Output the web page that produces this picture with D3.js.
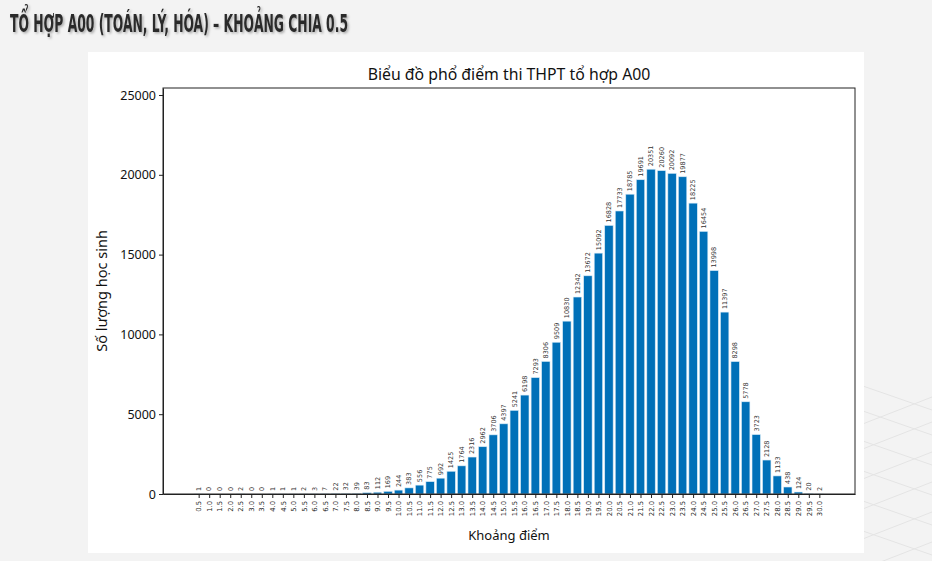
<!DOCTYPE html>
<html>
<head>
    <meta charset="utf-8">
    <title>Phổ điểm A00</title>
    <style type="text/css">
        body { margin: 0; background: #f3f3f3; }
        svg { display: block; }
        .chart-text { font-family: "Noto Sans", "Open Sans", sans-serif; fill: #111; }
        .bar { fill: #0070b8; stroke: #d8ebf7; stroke-width: 0.6px; }
        .bar-label { font-family: "DejaVu Sans", sans-serif; font-size: 6.5px; fill: #333; }
        .x-axis text { font-family: "DejaVu Sans", sans-serif; font-size: 6.8px; fill: #222; }
        .y-axis text { font-family: "Noto Sans", "Open Sans", sans-serif; font-size: 12.5px; fill: #111; }
        .axis path, .axis line { stroke: #222; }
    </style>
</head>
<body>
<div id="chart"></div>
<script src="https://d3js.org/d3.v7.min.js"></script>
<script>
    // score bins (step 0.5) and number of students in each bin
    var scoreBins = ["0.5","1.0","1.5","2.0","2.5","3.0","3.5","4.0","4.5","5.0",
                     "5.5","6.0","6.5","7.0","7.5","8.0","8.5","9.0","9.5","10.0",
                     "10.5","11.0","11.5","12.0","12.5","13.0","13.5","14.0","14.5","15.0",
                     "15.5","16.0","16.5","17.0","17.5","18.0","18.5","19.0","19.5","20.0",
                     "20.5","21.0","21.5","22.0","22.5","23.0","23.5","24.0","24.5","25.0",
                     "25.5","26.0","26.5","27.0","27.5","28.0","28.5","29.0","29.5","30.0"];
    var studentCounts = [1,0,0,0,2,0,0,1,1,1,
                         2,3,7,22,32,39,83,112,169,244,
                         383,556,775,992,1425,1764,2316,2962,3706,4397,
                         5241,6198,7293,8306,9509,10830,12342,13672,15092,16828,
                         17733,18785,19691,20351,20260,20092,19877,18225,16454,13998,
                         11397,8298,5778,3723,2128,1133,438,124,20,2];
    var yTicks = [0, 5000, 10000, 15000, 20000, 25000];

    var pageTitle = "TỔ HỢP A00 (TOÁN, LÝ, HÓA) – KHOẢNG CHIA 0.5";
    var chartTitle = "Biểu đồ phổ điểm thi THPT tổ hợp A00";
    var xLabel = "Khoảng điểm";
    var yLabel = "Số lượng học sinh";

    var width = 932, height = 561;
    var plot = { left: 163, right: 855, top: 88, bottom: 494 };

    var svg = d3.select("#chart").append("svg")
        .attr("width", width)
        .attr("height", height);

    //  soft shadow for the slide heading
    var shadow = svg.append("defs").append("filter")
        .attr("id", "shadow").attr("x", "-5%").attr("y", "-20%")
        .attr("width", "110%").attr("height", "150%");
    shadow.append("feDropShadow")
        .attr("dx", 1.5).attr("dy", 1.5).attr("stdDeviation", 1)
        .attr("flood-color", "#000").attr("flood-opacity", 0.3);

    //  faint background grid at the bottom right of the slide
    var deco = svg.append("g").attr("stroke", "#e4e4e4").attr("stroke-width", 1).attr("fill", "none");
    [385, 410, 440, 470, 500, 530].forEach(function (y0) {
        deco.append("line").attr("x1", 860).attr("y1", y0).attr("x2", 932).attr("y2", y0 + 25);
        deco.append("line").attr("x1", 860).attr("y1", y0 + 40).attr("x2", 932).attr("y2", y0 + 12);
    });

    //  slide heading
    svg.append("text")
        .attr("x", 10).attr("y", 32)
        .attr("fill", "#2b2b2b")
        .attr("filter", "url(#shadow)")
        .attr("font-family", "'DejaVu Sans Condensed', 'Liberation Sans Narrow', sans-serif")
        .attr("font-weight", "bold").attr("font-size", 25)
        .attr("textLength", 338).attr("lengthAdjust", "spacingAndGlyphs")
        .text(pageTitle);

    //  white panel holding the chart
    svg.append("rect")
        .attr("x", 88).attr("y", 52)
        .attr("width", 776).attr("height", 501)
        .attr("fill", "#fff");

    var n = scoreBins.length;
    var x = d3.scaleLinear()
        .domain([-0.4 - 0.05 * (n - 0.2), n - 0.6 + 0.05 * (n - 0.2)])
        .range([plot.left, plot.right]);
    var y = d3.scaleLinear()
        .domain([0, d3.max(studentCounts) * 1.25])
        .range([plot.bottom, plot.top]);
    var barW = x(0.8) - x(0);

    //  bars
    svg.append("g").selectAll("rect")
        .data(studentCounts)
        .enter().append("rect")
        .attr("class", "bar")
        .attr("x", (d, i) => x(i - 0.4))
        .attr("y", d => y(d))
        .attr("width", barW)
        .attr("height", d => y(0) - y(d));

    //  value labels above each bar
    svg.append("g").selectAll("text")
        .data(studentCounts)
        .enter().append("text")
        .attr("class", "bar-label")
        .attr("transform", (d, i) => "translate(" + (x(i) + 2.3) + "," + (y(d) - 3) + ") rotate(-90)")
        .text(d => d);

    //  x axis with rotated bin labels
    var xAxis = d3.axisBottom(x)
        .tickValues(d3.range(n))
        .tickFormat(i => scoreBins[i])
        .tickSize(4)
        .tickSizeOuter(0);
    var gx = svg.append("g")
        .attr("class", "axis x-axis")
        .attr("transform", "translate(0," + plot.bottom + ")")
        .call(xAxis);
    gx.selectAll("text")
        .attr("transform", "rotate(-90)")
        .attr("x", -7).attr("y", 0).attr("dy", "0.32em")
        .style("text-anchor", "end");

    //  y axis
    var yAxis = d3.axisLeft(y).tickValues(yTicks).tickFormat(d3.format("d")).tickSize(4).tickSizeOuter(0);
    svg.append("g")
        .attr("class", "axis y-axis")
        .attr("transform", "translate(" + plot.left + ",0)")
        .call(yAxis)
        .selectAll("text").attr("x", -7);

    //  frame around the plot area
    svg.append("rect")
        .attr("x", plot.left).attr("y", plot.top)
        .attr("width", plot.right - plot.left).attr("height", plot.bottom - plot.top)
        .attr("fill", "none").attr("stroke", "#222").attr("stroke-width", 1);

    //  titles
    svg.append("text").attr("class", "chart-text")
        .attr("x", (plot.left + plot.right) / 2).attr("y", 80)
        .attr("text-anchor", "middle").attr("font-size", 15.8)
        .text(chartTitle);
    svg.append("text").attr("class", "chart-text")
        .attr("x", (plot.left + plot.right) / 2).attr("y", 540)
        .attr("text-anchor", "middle").attr("font-size", 13)
        .text(xLabel);
    svg.append("text").attr("class", "chart-text")
        .attr("transform", "translate(107," + ((plot.top + plot.bottom) / 2) + ") rotate(-90)")
        .attr("text-anchor", "middle").attr("font-size", 14.5)
        .text(yLabel);
</script>
</body>
</html>
